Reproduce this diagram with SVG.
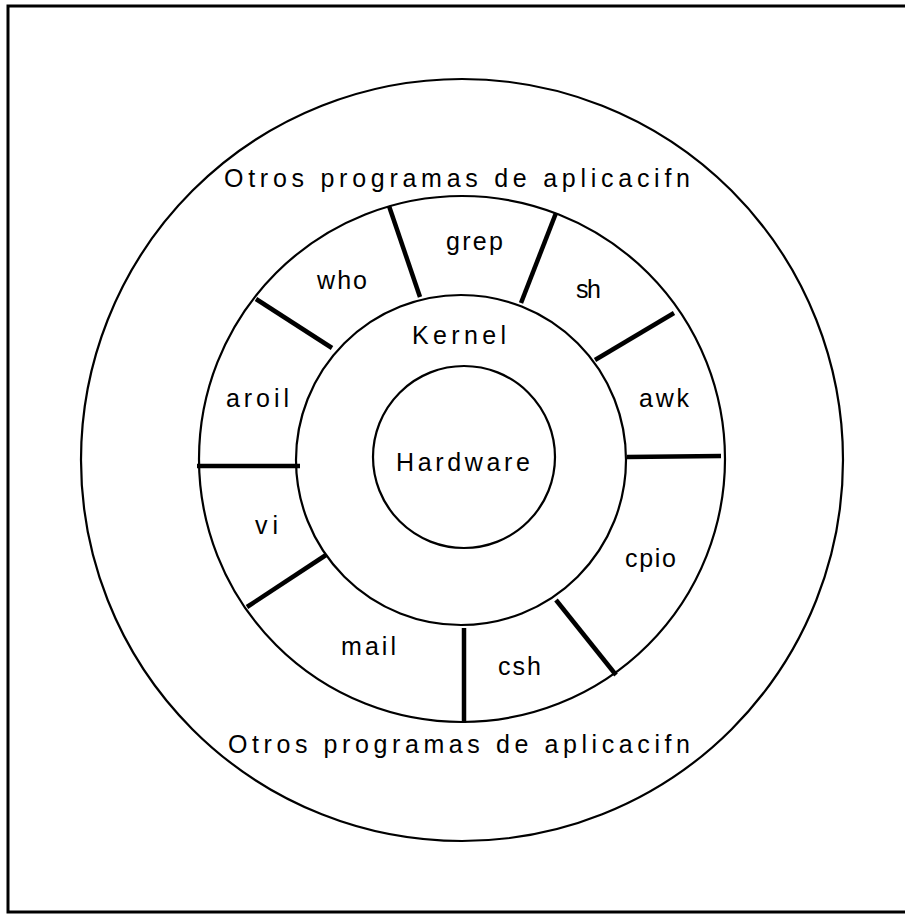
<svg xmlns="http://www.w3.org/2000/svg" width="905" height="915" viewBox="0 0 905 915">
<style>
.ring{fill:none;stroke:#000;stroke-width:2.2}
.div{stroke:#000;stroke-width:4.5;stroke-linecap:butt}
.lbl{font-family:"Liberation Sans","DejaVu Sans",sans-serif;font-size:25px;fill:#000;font-weight:normal}
.frame{fill:none;stroke:#000;stroke-width:3}
</style>
<rect width="905" height="915" fill="#fff"/>
<path class="frame" d="M905,6 H8 V912 H905"/>
<g id="outer">
  <circle class="ring" cx="462" cy="460" r="381"/>
  <text class="lbl" x="224" y="187" textLength="466" lengthAdjust="spacing">Otros programas de aplicacifn</text>
  <text class="lbl" x="228" y="753" textLength="462" lengthAdjust="spacing">Otros programas de aplicacifn</text>
</g>
<g id="programs">
  <circle class="ring" cx="462" cy="459" r="263"/>
</g>
<g id="kernel">
  <circle class="ring" cx="461" cy="460" r="165"/>
  <text class="lbl" x="412" y="344" textLength="94" lengthAdjust="spacing">Kernel</text>
</g>
<g id="hardware">
  <circle class="ring" cx="464" cy="457" r="91"/>
  <text class="lbl" x="396" y="471" textLength="134" lengthAdjust="spacing">Hardware</text>
</g>
<g id="connectors">
  <line class="div" x1="389" y1="206" x2="420" y2="297"/>
  <line class="div" x1="556" y1="213" x2="521" y2="303"/>
  <line class="div" x1="674" y1="313" x2="595" y2="360"/>
  <line class="div" x1="627" y1="457" x2="721" y2="456"/>
  <line class="div" x1="556" y1="600" x2="616" y2="675"/>
  <line class="div" x1="464" y1="628" x2="464" y2="723"/>
  <line class="div" x1="326" y1="555" x2="247" y2="607"/>
  <line class="div" x1="197" y1="466" x2="300" y2="466"/>
  <line class="div" x1="256" y1="299" x2="332" y2="348"/>
</g>
<g id="grep"><text class="lbl" x="446" y="250" textLength="57" lengthAdjust="spacing">grep</text></g>
<g id="who"><text class="lbl" x="317" y="289" textLength="50" lengthAdjust="spacing">who</text></g>
<g id="sh"><text class="lbl" x="576" y="298" textLength="25" lengthAdjust="spacing">sh</text></g>
<g id="aroil"><text class="lbl" x="226" y="407" textLength="63" lengthAdjust="spacing">aroil</text></g>
<g id="awk"><text class="lbl" x="639" y="407" textLength="50" lengthAdjust="spacing">awk</text></g>
<g id="vi"><text class="lbl" x="255" y="534" textLength="23" lengthAdjust="spacing">vi</text></g>
<g id="cpio"><text class="lbl" x="625" y="567" textLength="51" lengthAdjust="spacing">cpio</text></g>
<g id="mail"><text class="lbl" x="341" y="655" textLength="55" lengthAdjust="spacing">mail</text></g>
<g id="csh"><text class="lbl" x="498" y="675" textLength="43" lengthAdjust="spacing">csh</text></g>
</svg>
